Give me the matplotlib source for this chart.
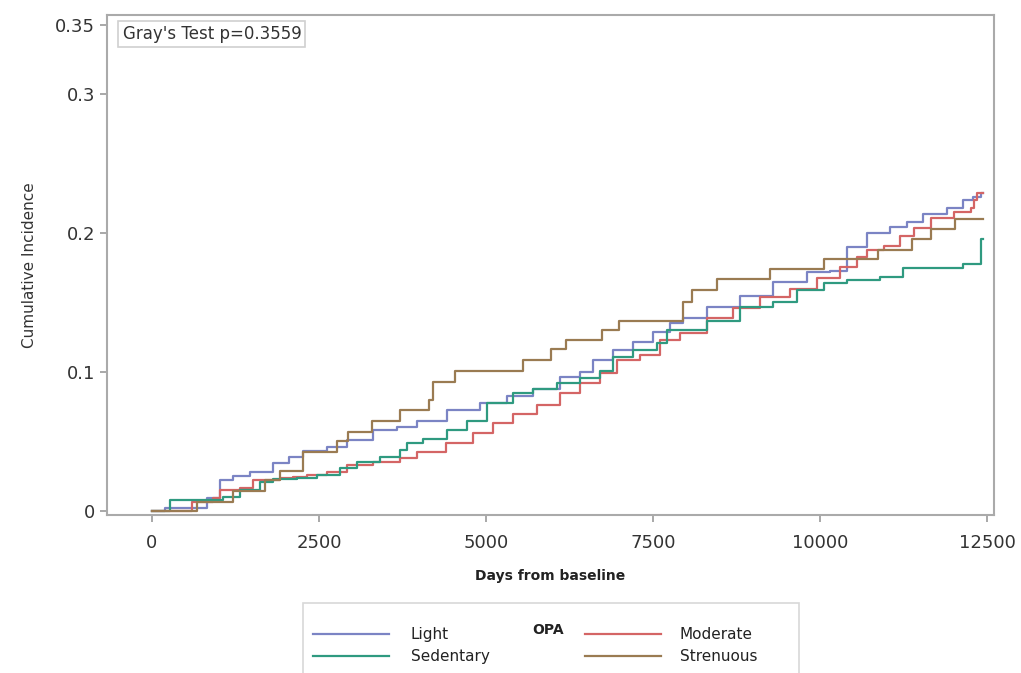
import matplotlib
matplotlib.use('Agg')
import matplotlib.pyplot as plt
from matplotlib.lines import Line2D
from matplotlib.patches import Rectangle

# step points: (days, cumulative incidence), drawn as post-steps
light_days = [0, 200, 820, 1020, 1210, 1470, 1810, 2060, 2260, 2620, 2920, 3310, 3670,
              3970, 4410, 4910, 5310, 5700, 6110, 6410, 6600, 6900, 7200, 7500, 7750,
              7950, 8310, 8800, 9300, 9800, 10150, 10400, 10700, 11050, 11300, 11540,
              11900, 12140, 12290, 12400, 12440]
light_inc = [0, 0.002, 0.009, 0.022, 0.025, 0.028, 0.0345, 0.039, 0.043, 0.046, 0.051,
             0.058, 0.060, 0.065, 0.0726, 0.0776, 0.083, 0.088, 0.0965, 0.100, 0.1085,
             0.1157, 0.1215, 0.1287, 0.135, 0.139, 0.1467, 0.155, 0.1646, 0.172, 0.173,
             0.190, 0.200, 0.204, 0.208, 0.214, 0.218, 0.2236, 0.2258, 0.229, 0.229]

sed_days = [0, 270, 820, 1060, 1320, 1620, 1810, 2170, 2470, 2810, 3070, 3410, 3710,
            3820, 4060, 4410, 4710, 5010, 5400, 5700, 6060, 6400, 6700, 6900, 7200,
            7560, 7710, 8310, 8800, 9300, 9650, 10050, 10400, 10900, 11240, 12140,
            12400, 12440]
sed_inc = [0, 0.008, 0.008, 0.010, 0.015, 0.021, 0.023, 0.0237, 0.026, 0.031, 0.035,
           0.039, 0.044, 0.049, 0.052, 0.058, 0.065, 0.0776, 0.085, 0.088, 0.092,
           0.0956, 0.101, 0.111, 0.1157, 0.1208, 0.130, 0.137, 0.1467, 0.150, 0.159,
           0.164, 0.166, 0.168, 0.1747, 0.178, 0.1955, 0.1955]

mod_days = [0, 600, 910, 1020, 1320, 1510, 1920, 2110, 2320, 2620, 2920, 3310, 3710,
            3970, 4400, 4810, 5110, 5400, 5760, 6110, 6410, 6700, 6960, 7310, 7600,
            7900, 8310, 8700, 9100, 9550, 9950, 10300, 10550, 10700, 10950, 11200,
            11400, 11650, 12000, 12250, 12300, 12350, 12440]
mod_inc = [0, 0.006, 0.009, 0.015, 0.0165, 0.022, 0.0237, 0.0245, 0.026, 0.028, 0.033,
           0.035, 0.038, 0.0424, 0.049, 0.056, 0.063, 0.070, 0.076, 0.085, 0.092,
           0.099, 0.1085, 0.112, 0.123, 0.128, 0.139, 0.146, 0.154, 0.160, 0.1675,
           0.1755, 0.1826, 0.1876, 0.191, 0.198, 0.2035, 0.211, 0.215, 0.218, 0.2236,
           0.229, 0.229]

str_days = [0, 670, 1210, 1690, 1915, 2260, 2770, 2935, 3290, 3710, 4150, 4200, 4540,
            5550, 5970, 6200, 6740, 6990, 7950, 8080, 8460, 9250, 10050, 10870, 11380,
            11650, 12020, 12440]
str_inc = [0, 0.0065, 0.014, 0.022, 0.029, 0.042, 0.050, 0.057, 0.065, 0.0726, 0.080,
           0.093, 0.101, 0.1085, 0.1165, 0.123, 0.130, 0.137, 0.150, 0.159, 0.167,
           0.174, 0.181, 0.188, 0.1955, 0.203, 0.210, 0.210]

groups = ['Light', 'Sedentary', 'Moderate', 'Strenuous']
colors = {'Light': '#7b84c4', 'Sedentary': '#2f9a80',
          'Moderate': '#d46565', 'Strenuous': '#9a7b52'}
series = {'Light': (light_days, light_inc), 'Sedentary': (sed_days, sed_inc),
          'Moderate': (mod_days, mod_inc), 'Strenuous': (str_days, str_inc)}

x_ticks = [0, 2500, 5000, 7500, 10000, 12500]
y_ticks = [0, 0.1, 0.2, 0.3, 0.35]
y_tick_labels = ['0', '0.1', '0.2', '0.3', '0.35']

fig = plt.figure(figsize=(10.21, 6.73), dpi=100)
ax = fig.add_axes([0.1048, 0.2348, 0.8688, 0.7429])

for g in ['Light', 'Moderate', 'Sedentary', 'Strenuous']:
    d, v = series[g]
    ax.step(d, v, where='post', color=colors[g], lw=1.6)

ax.set_xlim(-670, 12600)
ax.set_ylim(-0.003, 0.357)
ax.set_xticks(x_ticks)
ax.set_xticklabels([str(t) for t in x_ticks])
ax.set_yticks(y_ticks)
ax.set_yticklabels(y_tick_labels)
ax.tick_params(axis='both', colors='#999999', labelcolor='#333333',
               labelsize=13, length=5, width=1.2)
ax.tick_params(axis='x', pad=9)
for s in ax.spines.values():
    s.set_color('#aaaaaa')
    s.set_linewidth(1.5)

ax.set_xlabel('Days from baseline', fontsize=10, fontweight='bold',
              color='#222222', labelpad=12)
ax.set_ylabel('Cumulative Incidence', fontsize=11, color='#333333', labelpad=13)

ax.text(0.0175, 0.962, "Gray's Test p=0.3559", transform=ax.transAxes,
        fontsize=12, color='#333333', ha='left', va='center',
        bbox=dict(boxstyle='square,pad=0.25', fc='white', ec='#d0d0d0', lw=1.2))

# legend panel below the plot
fig.patches.append(Rectangle((303 / 1021, -0.05), 496 / 1021, (673 - 603) / 673 + 0.05,
                             transform=fig.transFigure, fc='white', ec='#d8d8d8', lw=1.2))
fig.text(548 / 1021, (673 - 630) / 673, 'OPA', fontsize=10, fontweight='bold',
         color='#222222', ha='center', va='center')

left_h = [Line2D([], [], color=colors[g], lw=1.6) for g in ['Light', 'Sedentary']]
right_h = [Line2D([], [], color=colors[g], lw=1.6) for g in ['Moderate', 'Strenuous']]
fig.legend(left_h, ['Light', 'Sedentary'], loc='upper left',
           bbox_to_anchor=(313 / 1021, (673 - 627) / 673), frameon=False,
           fontsize=11, handlelength=5.0, handletextpad=1.4, borderpad=0,
           borderaxespad=0, labelspacing=0.45, labelcolor='#222222')
fig.legend(right_h, ['Moderate', 'Strenuous'], loc='upper left',
           bbox_to_anchor=(585 / 1021, (673 - 627) / 673), frameon=False,
           fontsize=11, handlelength=5.0, handletextpad=1.2, borderpad=0,
           borderaxespad=0, labelspacing=0.45, labelcolor='#222222')

fig.savefig('out.png', dpi=100)
